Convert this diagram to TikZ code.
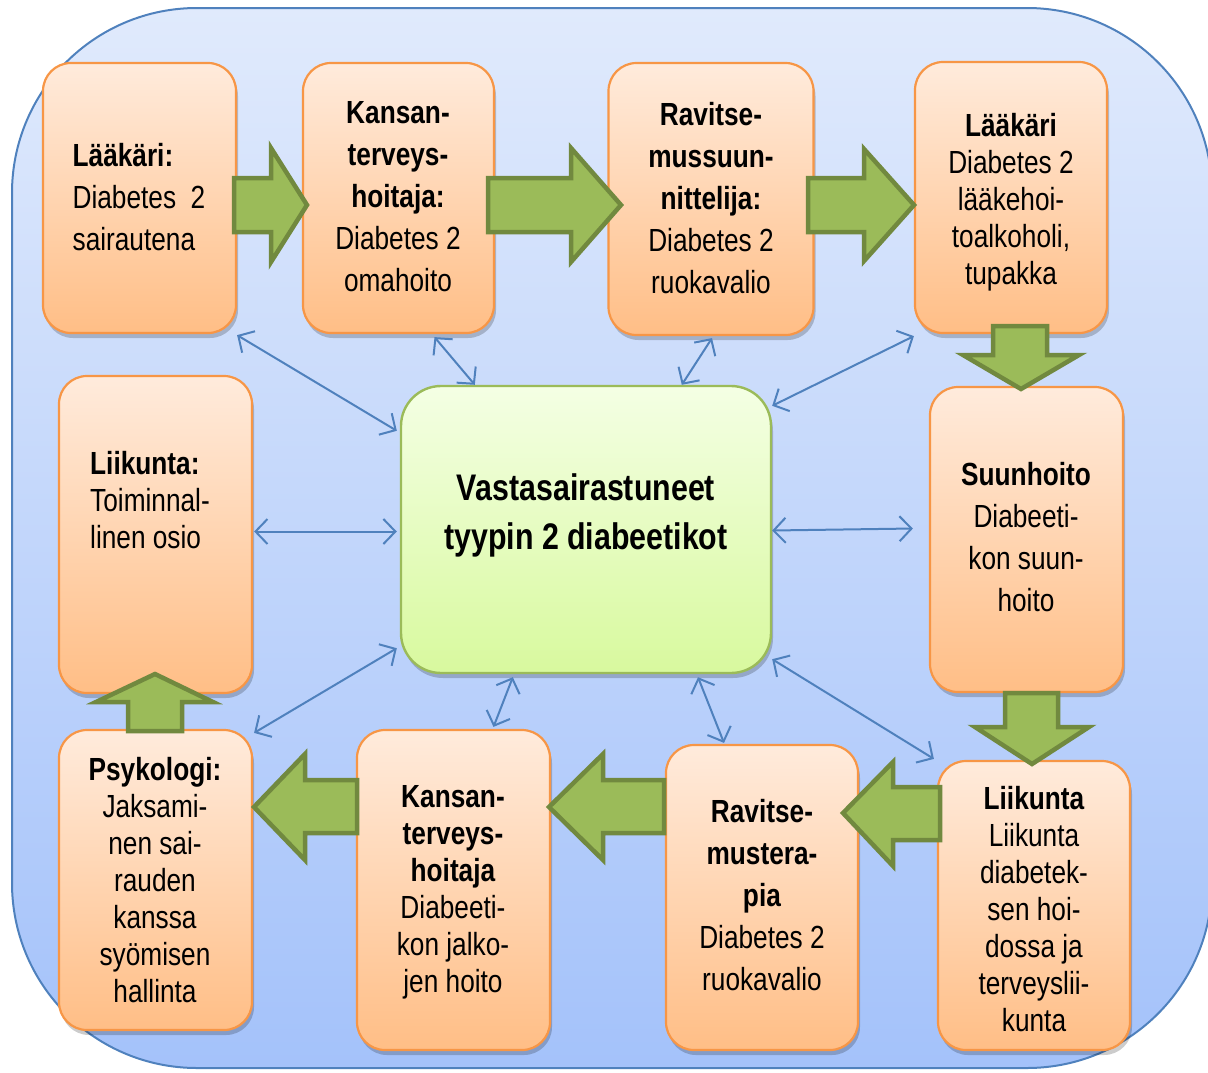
\documentclass[tikz,border=0pt]{standalone}
\usepackage{fontspec}
\setmainfont{Liberation Sans}[FakeStretch=0.82]
\usetikzlibrary{arrows.meta,shadows,calc}

\definecolor{bgtop}{RGB}{224,234,252}
\definecolor{bgbot}{RGB}{164,194,250}
\definecolor{bgline}{RGB}{79,129,189}
\definecolor{cardtop}{RGB}{255,235,220}
\definecolor{cardbot}{RGB}{255,190,134}
\definecolor{cardline}{RGB}{247,150,70}
\definecolor{hubtop}{RGB}{244,255,228}
\definecolor{hubbot}{RGB}{216,249,158}
\definecolor{hubline}{RGB}{155,187,89}
\definecolor{flowfill}{RGB}{155,187,89}
\definecolor{flowline}{RGB}{113,137,63}
\definecolor{linkblue}{RGB}{79,129,189}

\tikzset{
  card/.style={rectangle, rounded corners=28pt, draw=cardline, line width=2.2pt,
    top color=cardtop, bottom color=cardbot, inner sep=0pt,
    drop shadow={shadow xshift=2pt, shadow yshift=-5pt, opacity=0.2, fill=black}},
  hub/.style={rectangle, rounded corners=40pt, draw=hubline, line width=2.4pt,
    top color=hubtop, bottom color=hubbot, inner sep=0pt,
    drop shadow={shadow xshift=2pt, shadow yshift=-5pt, opacity=0.2, fill=black}},
  wide/.style={font=\fontsize{32}{42}\selectfont, align=center, inner sep=0pt},
  tight/.style={font=\fontsize{32}{37}\selectfont, align=center, inner sep=0pt},
  flow/.style={fill=flowfill, draw=flowline, line width=4.5pt, line join=miter},
  link/.style={draw=linkblue, line width=2pt, <->,
    >={Straight Barb[length=12pt,width=25pt]}},
}

\begin{document}
\begin{tikzpicture}[x=1pt,y=-1pt]
\useasboundingbox (0,0) rectangle (1208,1072);

% background panel
\draw[draw=bgline, line width=2pt, top color=bgtop, bottom color=bgbot,
  rounded corners=185pt] (12,8) rectangle (1212,1068);

% outer boxes
\node[card, minimum width=193pt, minimum height=270pt] (b1) at (139.5,198) {};
\node[card, minimum width=191pt, minimum height=270pt] (b2) at (398.5,198) {};
\node[card, minimum width=205pt, minimum height=272pt] (b3) at (711,199) {};
\node[card, minimum width=192pt, minimum height=271pt] (b4) at (1011,197.5) {};
\node[card, minimum width=193pt, minimum height=317pt] (b5) at (155.5,534.5) {};
\node[card, minimum width=193pt, minimum height=305pt] (b6) at (1026.5,539.5) {};
\node[card, minimum width=193pt, minimum height=300pt] (b7) at (155.5,880) {};
\node[card, minimum width=193pt, minimum height=320pt] (b8) at (453.5,890) {};
\node[card, minimum width=192pt, minimum height=305pt] (b9) at (762,897.5) {};
\node[card, minimum width=192pt, minimum height=289pt] (b10) at (1034,905.5) {};

% central box
\node[hub, minimum width=370pt, minimum height=287pt] (c) at (586,529.5) {};

% texts
\node[wide, align=left] (t1) at (139,197) {\textbf{Lääkäri:}\\Diabetes\ \ 2\\sairautena};
\node[wide] (t2) at (398,197) {\textbf{Kansan-}\\\textbf{terveys-}\\\textbf{hoitaja:}\\Diabetes 2\\omahoito};
\node[wide] (t3) at (711,198) {\textbf{Ravitse-}\\\textbf{mussuun-}\\\textbf{nittelija:}\\Diabetes 2\\ruokavalio};
\node[tight] (t4) at (1011,202) {\textbf{Lääkäri}\\Diabetes 2\\lääkehoi-\\toalkoholi,\\tupakka};
\node[tight, align=left] (t5) at (150,500) {\textbf{Liikunta:}\\Toiminnal-\\linen osio};
\node[wide] (t6) at (1026,537) {\textbf{Suunhoito}\\Diabeeti-\\kon suun-\\hoito};
\node[tight] (t7) at (155,880) {\textbf{Psykologi:}\\Jaksami-\\nen sai-\\rauden\\kanssa\\syömisen\\hallinta};
\node[tight] (t8) at (453,892) {\textbf{Kansan-}\\\textbf{terveys-}\\\textbf{hoitaja}\\Diabeeti-\\kon jalko-\\jen hoito};
\node[wide] (t9) at (762,895) {\textbf{Ravitse-}\\\textbf{mustera-}\\\textbf{pia}\\Diabetes 2\\ruokavalio};
\node[tight] (t10) at (1034,909) {\textbf{Liikunta}\\Liikunta\\diabetek-\\sen hoi-\\dossa ja\\terveyslii-\\kunta};
\node[font=\fontsize{37}{49}\selectfont\bfseries, align=center, inner sep=0pt] (tc) at (586,515)
  {Vastasairastuneet\\tyypin 2 diabeetikot};

% green flow arrows
\draw[flow] (234,178) -- (271,178) -- (271,148) -- (307,205) -- (271,262) -- (271,232) -- (234,232) -- cycle;
\draw[flow] (488,178) -- (571,178) -- (571,148) -- (621,205) -- (571,262) -- (571,232) -- (488,232) -- cycle;
\draw[flow] (808,178) -- (864,178) -- (864,149) -- (914,205) -- (864,261) -- (864,232) -- (808,232) -- cycle;
\draw[flow] (993,326) -- (1047,326) -- (1047,355) -- (1079,355) -- (1021,389) -- (963,355) -- (993,355) -- cycle;
\draw[flow] (1005,693) -- (1058,693) -- (1058,727) -- (1089,727) -- (1032,764) -- (975,727) -- (1005,727) -- cycle;
\draw[flow] (940,787) -- (893,787) -- (893,762) -- (843,813) -- (893,866) -- (893,840) -- (940,840) -- cycle;
\draw[flow] (664,780) -- (603,780) -- (603,754) -- (549,807) -- (603,860) -- (603,833) -- (664,833) -- cycle;
\draw[flow] (357,780) -- (305,780) -- (305,754) -- (254,807) -- (305,860) -- (305,833) -- (357,833) -- cycle;
\draw[flow] (128,731) -- (182,731) -- (182,702) -- (213,702) -- (155,674) -- (96,702) -- (128,702) -- cycle;

% blue two-way links to the central box
\draw[link] ($(b1.south east)+(0,1)$) -- ($(c.north west)+(-3,46)$);
\draw[link] ($(b2.south)+(36,3)$) -- ($(c.north west)+(75,0)$);
\draw[link] ($(b3.south)+(1,2)$) -- ($(c.north west)+(282,0)$);
\draw[link] ($(b4.south west)+(0,2)$) -- ($(c.north east)+(0,21)$);
\draw[link] ($(b5.east)+(1,-3)$) -- ($(c.west)+(-3,2)$);
\draw[link] ($(c.east)+(0,1)$) -- ($(b6.west)+(-16,-11)$);
\draw[link] ($(b7.north east)+(1,4)$) -- ($(c.south west)+(-3,-26)$);
\draw[link] ($(c.south west)+(113,3)$) -- ($(b8.north)+(40,-2)$);
\draw[link] ($(c.south)+(112,3)$) -- ($(b9.north)+(-38,-1)$);
\draw[link] ($(c.south east)+(0,-15)$) -- ($(b10.north west)+(-3,-1)$);
\end{tikzpicture}
\end{document}
